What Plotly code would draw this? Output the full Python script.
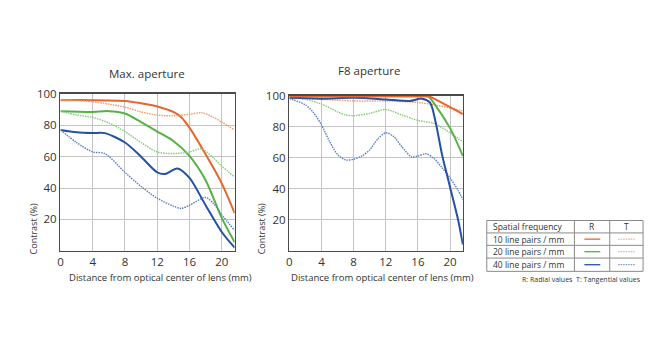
import plotly.graph_objects as go

W, H = 660, 363

# ---------- data ----------
# Max. aperture
max_r10_x = [0, 4, 8, 10, 12, 14, 15, 16, 18, 20, 21.6]
max_r10_y = [96, 96, 95.5, 94, 92, 88.5, 85, 78.5, 61.5, 43, 24]
max_t10_x = [0, 4, 8, 10, 12, 14, 16, 17.5, 19, 20, 21.6]
max_t10_y = [96, 95, 91.5, 88.5, 86.5, 86, 87, 88, 85, 82, 77]
max_r20_x = [0, 4, 6, 8, 10, 12, 14, 16, 18, 20, 21.6]
max_r20_y = [89, 88.5, 89, 87.5, 82, 76, 70, 60.5, 45, 21, 5.5]
max_t20_x = [0, 2, 4, 6, 8, 10, 12, 14, 16, 17.5, 19, 20, 21.6]
max_t20_y = [89, 86.5, 85, 81.5, 76, 69, 63, 62, 63, 65, 59, 54, 47]
max_r40_x = [0, 2, 4, 5.5, 8, 10, 12, 13, 14.5, 16, 18, 20, 21.6]
max_r40_y = [77, 75.5, 75, 75, 69, 60, 50, 49, 52.5, 46.5, 29, 12, 2]
max_t40_x = [0, 2, 4, 5.5, 8, 10, 12, 14, 15, 16, 18, 19, 20, 21.6]
max_t40_y = [77, 69, 63, 62, 50, 41, 33.5, 28.5, 27, 29, 34, 30, 23, 13]

# F8 aperture
f8_r10_x = [0, 4, 8, 12, 16, 17.5, 18, 20, 21.6]
f8_r10_y = [99.5, 99.5, 99.5, 99.5, 99.5, 99.3, 98, 92.5, 88]
f8_t10_x = [0, 4, 8, 12, 16, 18, 20, 21.6]
f8_t10_y = [98.5, 97.5, 96.5, 96.5, 95.5, 94, 92, 90]
f8_r20_x = [0, 4, 8, 12, 16, 17.3, 18, 20, 21.6]
f8_r20_y = [99.5, 99.5, 99.5, 99.5, 99.5, 99.3, 95, 79, 61]
f8_t20_x = [0, 2, 4, 6, 7, 8, 10, 12, 14, 16, 18, 20, 21.6]
f8_t20_y = [99, 97.5, 94.5, 89.5, 87.5, 87, 88.5, 91, 87.5, 84, 82, 76, 70]
f8_r40_x = [0, 4, 8, 12, 15, 16.5, 17.5, 18.2, 19, 20, 21, 21.6]
f8_r40_y = [98.5, 98, 98.5, 97.5, 96.5, 98, 95.5, 83, 62, 41, 20, 4]
f8_t40_x = [0, 2, 3, 4, 5, 6, 7, 8, 9, 10, 11, 12, 13, 14, 15.2, 16, 17, 18, 19, 20, 21, 21.6]
f8_t40_y = [98, 94, 89, 81, 70.5, 62, 58.5, 59, 61, 65, 72, 76, 73.5, 67, 60.5, 61, 62.5, 59.5, 53.5, 47, 39, 33]

x_ticks = [0, 4, 8, 12, 16, 20]
y_ticks = [20, 40, 60, 80, 100]
legend_rows = ["10 line pairs / mm", "20 line pairs / mm", "40 line pairs / mm"]

# ---------- styling ----------
C_SOLID = {"10": "#E8652B", "20": "#55B244", "40": "#2352A3"}
C_DOT = {"10": "#EE9A6A", "20": "#86CC74", "40": "#5B7FBE"}
DOT = "1.5px,1px"
FONT = "Open Sans"
TXT = "#333333"


def px(x):
    return x / W


def py(y):
    return 1 - y / H


fig = go.Figure()

series = [
    ("x", "y", max_r10_x, max_r10_y, "10", True),
    ("x", "y", max_t10_x, max_t10_y, "10", False),
    ("x", "y", max_r20_x, max_r20_y, "20", True),
    ("x", "y", max_t20_x, max_t20_y, "20", False),
    ("x", "y", max_r40_x, max_r40_y, "40", True),
    ("x", "y", max_t40_x, max_t40_y, "40", False),
    ("x2", "y2", f8_t10_x, f8_t10_y, "10", False),
    ("x2", "y2", f8_t20_x, f8_t20_y, "20", False),
    ("x2", "y2", f8_t40_x, f8_t40_y, "40", False),
    ("x2", "y2", f8_r40_x, f8_r40_y, "40", True),
    ("x2", "y2", f8_r20_x, f8_r20_y, "20", True),
    ("x2", "y2", f8_r10_x, f8_r10_y, "10", True),
]
for xa, ya, xs, ys, f, solid in series:
    fig.add_trace(go.Scatter(
        x=xs, y=ys, xaxis=xa, yaxis=ya, mode="lines",
        line=dict(color=C_SOLID[f] if solid else C_DOT[f],
                  width=2 if solid else 1.4,
                  dash="solid" if solid else DOT,
                  shape="spline", smoothing=0.8),
        showlegend=False, hoverinfo="skip", cliponaxis=True))

ax_common = dict(showgrid=True, gridcolor="#c4c4c4", gridwidth=1,
                 showline=True, linecolor="#4a4a4a", linewidth=1.5, mirror=True,
                 zeroline=False, ticks="", tickfont=dict(family=FONT, size=11.5, color=TXT))

fig.update_layout(
    width=W, height=H, margin=dict(l=0, r=0, t=0, b=0),
    paper_bgcolor="white", plot_bgcolor="white",
    xaxis=dict(domain=[px(57.7), px(232.7)], range=[0, 21.6], tickvals=x_ticks,
               anchor="y", **ax_common),
    yaxis=dict(domain=[py(248.3), py(87.8)], range=[0, 100], tickvals=y_ticks,
               anchor="x", **ax_common),
    xaxis2=dict(domain=[px(287.7), px(462)], range=[0, 21.6], tickvals=x_ticks,
                anchor="y2", **ax_common),
    yaxis2=dict(domain=[py(248.3), py(89.5)], range=[0, 100], tickvals=y_ticks,
                anchor="x2", **ax_common),
)

ann = []


def text(x, y, s, size, xanchor="center", angle=0, yanchor="middle"):
    ann.append(dict(x=px(x), y=py(y), xref="paper", yref="paper", text=s,
                    showarrow=False, xanchor=xanchor, yanchor=yanchor, textangle=angle,
                    font=dict(family=FONT, size=size, color=TXT)))


text(145, 67, "Max. aperture", 11.5)
text(368, 64, "F8 aperture", 11.5)
text(31, 225.5, "Contrast (%)", 9, angle=-90)
text(260, 225.5, "Contrast (%)", 9, angle=-90)
text(158, 276, "Distance from optical center of lens (mm)", 9.5)
text(381, 276, "Distance from optical center of lens (mm)", 9.5)

# legend table
tl, tr, c1, c2 = 486, 643, 574, 609.5
rows = [217.3, 230, 242.7, 255.7, 269.3]
shapes = []
border = "#8a8a8a"
for r in rows:
    shapes.append(dict(type="line", xref="paper", yref="paper",
                       x0=px(tl), x1=px(tr), y0=py(r), y1=py(r),
                       line=dict(color=border, width=1)))
for c in [tl, c1, c2, tr]:
    shapes.append(dict(type="line", xref="paper", yref="paper",
                       x0=px(c), x1=px(c), y0=py(rows[0]), y1=py(rows[-1]),
                       line=dict(color=border, width=1)))

text(490, (rows[0] + rows[1]) / 2, "Spatial frequency", 8.5, xanchor="left")
text((c1 + c2) / 2, (rows[0] + rows[1]) / 2, "R", 8.5)
text((c2 + tr) / 2, (rows[0] + rows[1]) / 2, "T", 8.5)
for i, (lab, f) in enumerate(zip(legend_rows, ["10", "20", "40"])):
    yc = (rows[i + 1] + rows[i + 2]) / 2
    text(490, yc, lab, 8.5, xanchor="left")
    shapes.append(dict(type="line", xref="paper", yref="paper",
                       x0=px(584), x1=px(600), y0=py(yc), y1=py(yc),
                       line=dict(color=C_SOLID[f], width=1.3)))
    shapes.append(dict(type="line", xref="paper", yref="paper",
                       x0=px(618), x1=px(635), y0=py(yc), y1=py(yc),
                       line=dict(color=C_DOT[f], width=1, dash=DOT)))

text(643, 278, "R: Radial values  T: Tangential values", 7, xanchor="right")

fig.update_layout(annotations=ann, shapes=shapes)
fig.write_html(
    "out.html",
    config={"displayModeBar": False, "staticPlot": True},
    post_script=(
        "document.documentElement.style.margin='0';"
        "document.body.style.margin='0';document.body.style.padding='0';"
        "document.body.style.overflow='hidden';"
        "var d=document.querySelector('.plotly-graph-div');"
        "d.style.position='fixed';d.style.top='0px';d.style.left='0px';"
    ),
)
